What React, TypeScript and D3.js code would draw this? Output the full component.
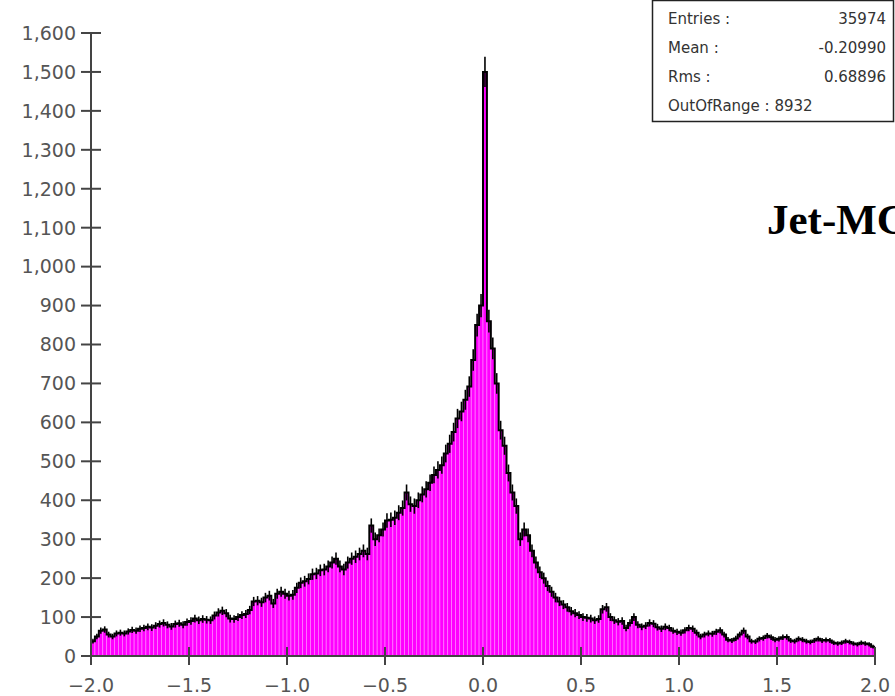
import React, { useRef, useEffect } from "react";
import * as d3 from "d3";

// histogram: 200 bins from -2.0 to 2.0 (width 0.02)
const binLow = -2.0;
const binHigh = 2.0;
const binCounts = [
  38, 50, 65, 68, 55, 50, 58, 60, 58, 63,
  67, 65, 70, 72, 75, 73, 78, 82, 85, 80,
  76, 82, 84, 80, 87, 90, 96, 92, 95, 93,
  92, 104, 112, 116, 110, 96, 95, 100, 105, 108,
  118, 140, 142, 138, 150, 155, 135, 160, 165, 160,
  155, 157, 175, 188, 192, 198, 210, 212, 220, 222,
  230, 240, 250, 230, 222, 240, 250, 255, 262, 270,
  262, 335, 300, 310, 325, 348, 350, 355, 368, 380,
  420, 390, 385, 400, 415, 428, 445, 465, 478, 490,
  520, 545, 575, 610, 628, 658, 692, 760, 850, 900,
  1500, 860, 790, 700, 580, 540, 470, 420, 385, 300,
  325, 310, 270, 240, 215, 200, 180, 165, 150, 140,
  132, 125, 115, 110, 105, 100, 98, 96, 92, 95,
  120, 125, 100, 92, 88, 90, 72, 85, 100, 80,
  75, 78, 85, 83, 74, 70, 75, 72, 65, 62,
  60, 66, 72, 70, 60, 50, 55, 58, 57, 62,
  66, 55, 42, 40, 45, 55, 65, 50, 38, 37,
  44, 46, 52, 48, 42, 44, 48, 49, 40, 38,
  44, 42, 38, 36, 40, 44, 40, 41, 40, 34,
  32, 34, 38, 36, 32, 30, 34, 32, 30, 24,
];

const xTicks = [-2.0, -1.5, -1.0, -0.5, 0.0, 0.5, 1.0, 1.5, 2.0];
const yTicks = [0, 100, 200, 300, 400, 500, 600, 700, 800, 900, 1000, 1100, 1200, 1300, 1400, 1500, 1600];

const statLabels = ["Entries :", "Mean :", "Rms :"];
const statValues = ["35974", "-0.20990", "0.68896"];
const outOfRange = "OutOfRange : 8932";
const title = "Jet-MC";

function App() {
  const ref = useRef(null);

  useEffect(() => {
    draw();
  }, []);

  const draw = () => {
    const svg = d3.select(ref.current);
    svg.selectAll("*").remove();

    const width = 895;
    const height = 696;
    const margin = { top: 33, right: 20, bottom: 40, left: 91 };
    const axisColor = "#444";
    const labelFont = "DejaVu Sans, sans-serif";

    let x = d3.scaleLinear().domain([binLow, binHigh]).range([margin.left, width - margin.right]);
    let y = d3.scaleLinear().domain([0, 1600]).range([height - margin.bottom, margin.top]);

    const step = (binHigh - binLow) / binCounts.length;
    const bins = binCounts.map((v, i) => ({ x0: binLow + i * step, x1: binLow + (i + 1) * step, v }));

    // bars
    svg.append("g")
      .selectAll("rect")
      .data(bins)
      .enter()
      .append("rect")
      .attr("x", (d) => x(d.x0))
      .attr("y", (d) => y(d.v))
      .attr("width", (d) => x(d.x1) - x(d.x0))
      .attr("height", (d) => y(0) - y(d.v))
      .attr("fill", "#ff00ff")
      .attr("stroke", "#ff80ff")
      .attr("stroke-width", 0.7);

    // step outline
    const line = d3.line()
      .x((d) => d[0])
      .y((d) => d[1]);
    const pts = [];
    bins.forEach((d) => {
      pts.push([x(d.x0), y(d.v)]);
      pts.push([x(d.x1), y(d.v)]);
    });
    svg.append("path")
      .attr("d", line(pts))
      .attr("fill", "none")
      .attr("stroke", "black")
      .attr("stroke-width", 2);

    // error bars
    svg.append("g")
      .selectAll("line")
      .data(bins)
      .enter()
      .append("line")
      .attr("x1", (d) => (x(d.x0) + x(d.x1)) / 2)
      .attr("x2", (d) => (x(d.x0) + x(d.x1)) / 2)
      .attr("y1", (d) => y(d.v + Math.sqrt(d.v)))
      .attr("y2", (d) => y(d.v - Math.sqrt(d.v)))
      .attr("stroke", "black")
      .attr("stroke-width", 1.6);

    // axes
    const axes = svg.append("g").attr("stroke", axisColor).attr("stroke-width", 2);
    axes.append("line").attr("x1", x(binLow)).attr("x2", x(binLow)).attr("y1", y(0)).attr("y2", y(1600));
    axes.append("line").attr("x1", x(binLow)).attr("x2", x(binHigh)).attr("y1", y(0)).attr("y2", y(0));
    axes.selectAll(".ytick")
      .data(yTicks)
      .enter()
      .append("line")
      .attr("x1", x(binLow) - 10)
      .attr("x2", (d) => (d === 0 ? x(binLow) : x(binLow) + 10))
      .attr("y1", (d) => y(d))
      .attr("y2", (d) => y(d));
    axes.selectAll(".xtick")
      .data(xTicks)
      .enter()
      .append("line")
      .attr("x1", (d) => x(d))
      .attr("x2", (d) => x(d))
      .attr("y1", (d) => (d === binLow ? y(0) : y(0) - 9))
      .attr("y2", y(0) + 9);

    const fmtY = d3.format(",");
    svg.append("g")
      .selectAll("text")
      .data(yTicks)
      .enter()
      .append("text")
      .text((d) => fmtY(d))
      .attr("x", x(binLow) - 15)
      .attr("y", (d) => y(d))
      .attr("dy", "0.36em")
      .attr("text-anchor", "end")
      .attr("font-family", labelFont)
      .attr("font-size", "19px")
      .attr("fill", "#555");

    const fmtX = d3.format(".1f");
    svg.append("g")
      .selectAll("text")
      .data(xTicks)
      .enter()
      .append("text")
      .text((d) => fmtX(d))
      .attr("x", (d) => x(d))
      .attr("y", y(0) + 36)
      .attr("text-anchor", "middle")
      .attr("font-family", labelFont)
      .attr("font-size", "19px")
      .attr("fill", "#555");

    // title (runs off the right edge, as in the original)
    svg.append("text")
      .text(title)
      .attr("x", 767)
      .attr("y", 234)
      .attr("font-family", "Liberation Serif, Times New Roman, serif")
      .attr("font-weight", "bold")
      .attr("font-size", "43px")
      .attr("fill", "black");

    // stats box
    const box = svg.append("g");
    box.append("rect")
      .attr("x", 652.5)
      .attr("y", 0.5)
      .attr("width", 241)
      .attr("height", 121)
      .attr("fill", "white")
      .attr("stroke", "#222")
      .attr("stroke-width", 1.5);
    const rowY = [24, 53, 82];
    statLabels.forEach((s, i) => {
      box.append("text")
        .text(s)
        .attr("x", 668)
        .attr("y", rowY[i])
        .attr("font-family", labelFont)
        .attr("font-size", "15px")
        .attr("fill", "#333");
      box.append("text")
        .text(statValues[i])
        .attr("x", 886)
        .attr("y", rowY[i])
        .attr("text-anchor", "end")
        .attr("font-family", labelFont)
        .attr("font-size", "15px")
        .attr("fill", "#333");
    });
    box.append("text")
      .text(outOfRange)
      .attr("x", 668)
      .attr("y", 111)
      .attr("font-family", labelFont)
      .attr("font-size", "15px")
      .attr("fill", "#333");
  };

  return (
    <div className="chart">
      <svg
        ref={ref}
        width={895}
        height={696}
        style={{ position: "absolute", left: 0, top: 0, background: "white" }}
      ></svg>
    </div>
  );
}

export default App;
